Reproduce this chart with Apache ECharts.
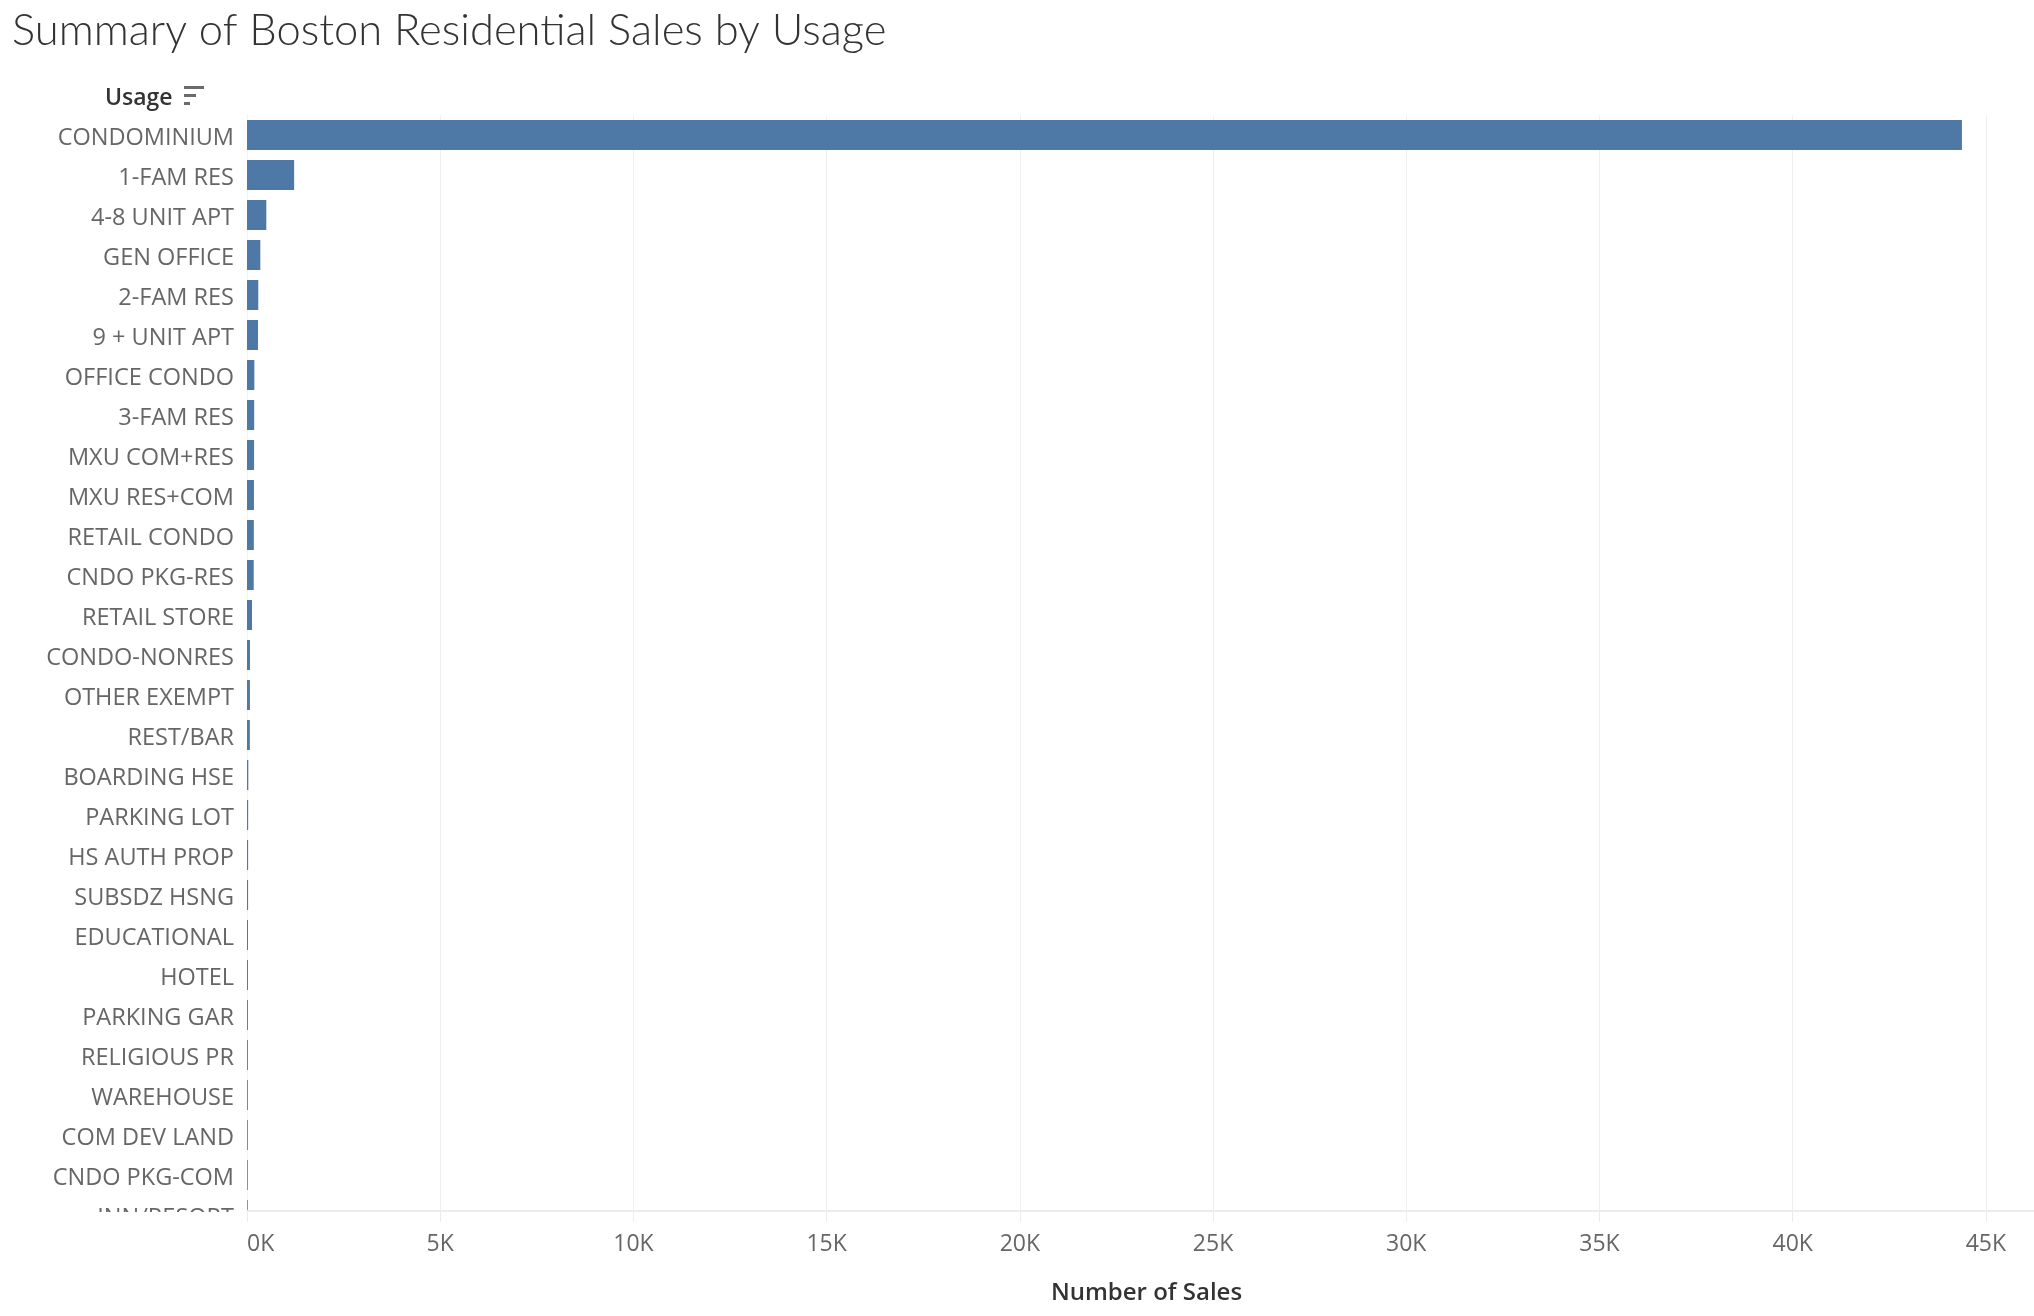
<!DOCTYPE html>
<html>
<head>
<meta charset="utf-8">
<script src="https://cdn.jsdelivr.net/npm/echarts@6/dist/echarts.min.js"></script>
<style>
  html, body { margin: 0; padding: 0; background: #ffffff; }
  #chart { width: 2034px; height: 1316px; }
</style>
</head>
<body>
<div id="chart"></div>
<script>
const chartTitle = 'Summary of Boston Residential Sales by Usage';
const categoryHeader = 'Usage';
const valueAxisTitle = 'Number of Sales';

const categories = [
  'CONDOMINIUM', '1-FAM RES', '4-8 UNIT APT', 'GEN OFFICE', '2-FAM RES',
  '9 + UNIT APT', 'OFFICE CONDO', '3-FAM RES', 'MXU COM+RES', 'MXU RES+COM',
  'RETAIL CONDO', 'CNDO PKG-RES', 'RETAIL STORE', 'CONDO-NONRES', 'OTHER EXEMPT',
  'REST/BAR', 'BOARDING HSE', 'PARKING LOT', 'HS AUTH PROP', 'SUBSDZ HSNG',
  'EDUCATIONAL', 'HOTEL', 'PARKING GAR', 'RELIGIOUS PR', 'WAREHOUSE',
  'COM DEV LAND', 'CNDO PKG-COM', 'INN/RESORT'
];

const salesCounts = [
  44380, 1220, 500, 345, 292,
  285, 190, 186, 183, 180,
  177, 174, 130, 78, 76,
  74, 34, 30, 29, 28,
  26, 25, 24, 23, 22,
  21, 20, 19
];

const tickValues = [0, 5000, 10000, 15000, 20000, 25000, 30000, 35000, 40000, 45000];
const tickLabels = ['0K', '5K', '10K', '15K', '20K', '25K', '30K', '35K', '40K', '45K'];

const axisMax = 46245;
const tickStep = tickValues[1] - tickValues[0];

const labelFont = '"Open Sans", "Noto Sans", sans-serif';

const chart = echarts.init(document.getElementById('chart'), null, { renderer: 'canvas' });

const option = {
  backgroundColor: '#ffffff',
  animation: false,
  title: {
    text: chartTitle,
    left: 7,
    top: 4,
    textStyle: {
      fontFamily: 'Lato, "Open Sans", sans-serif',
      fontWeight: 300,
      fontSize: 43.5,
      color: '#333333'
    }
  },
  grid: {
    left: 247,
    right: 0,
    top: 115,
    bottom: 81,
    containLabel: false
  },
  xAxis: [
    {
      type: 'value',
      gridIndex: 0,
      position: 'bottom',
      min: 0,
      max: axisMax,
      interval: tickStep,
      offset: -24,
      z: 10,
      axisLine: { show: true, lineStyle: { color: '#ececec', width: 2 } },
      axisTick: { show: true, length: 11, lineStyle: { color: '#ececec', width: 1 } },
      splitLine: { show: false },
      axisLabel: {
        show: true,
        margin: 22,
        color: '#666666',
        fontSize: 23,
        fontFamily: labelFont,
        showMaxLabel: false,
        alignMinLabel: 'left',
        formatter: function (v) {
          const i = tickValues.indexOf(v);
          return i >= 0 ? tickLabels[i] : '';
        }
      },
      name: valueAxisTitle,
      nameLocation: 'middle',
      nameGap: 70,
      nameTextStyle: {
        fontFamily: labelFont,
        fontSize: 24,
        fontWeight: 600,
        color: '#333333',
        padding: [0, 0, 0, 12]
      }
    },
    {
      type: 'value',
      gridIndex: 0,
      min: 0,
      max: axisMax,
      interval: tickStep,
      z: 0,
      axisLine: { show: false },
      axisTick: { show: false },
      axisLabel: { show: false },
      splitLine: { show: true, lineStyle: { color: '#efefef', width: 1 } }
    }
  ],
  yAxis: {
    type: 'category',
    data: categories,
    inverse: true,
    z: 0,
    axisLine: { show: true, lineStyle: { color: '#f3f3f3', width: 1 } },
    axisTick: { show: false },
    splitLine: { show: false },
    axisLabel: {
      margin: 13,
      color: '#666666',
      fontSize: 23.5,
      fontFamily: labelFont,
      formatter: function (v) { return '{l|' + v + '}'; },
      rich: {
        l: {
          color: '#666666',
          fontSize: 23.5,
          fontFamily: labelFont,
          padding: [6, 0, 0, 0]
        }
      }
    }
  },
  series: [
    {
      type: 'bar',
      xAxisIndex: 0,
      data: salesCounts,
      barWidth: 30,
      itemStyle: { color: '#4e79a7' },
      z: 2
    }
  ],
  graphic: [
    {
      type: 'rect',
      z: 5,
      shape: { x: 0, y: 1212, width: 2034, height: 25 },
      style: { fill: '#ffffff' },
      silent: true
    },
    {
      type: 'text',
      z: 6,
      left: 105,
      top: 87,
      style: {
        text: categoryHeader,
        fontFamily: labelFont,
        fontSize: 23,
        fontWeight: 600,
        fill: '#333333'
      }
    },
    { type: 'rect', z: 6, shape: { x: 184, y: 86, width: 20, height: 3 }, style: { fill: '#6b6b6b' } },
    { type: 'rect', z: 6, shape: { x: 184, y: 94, width: 12, height: 3 }, style: { fill: '#6b6b6b' } },
    { type: 'rect', z: 6, shape: { x: 184, y: 102, width: 6, height: 3 }, style: { fill: '#6b6b6b' } }
  ]
};

chart.setOption(option);
</script>
</body>
</html>
